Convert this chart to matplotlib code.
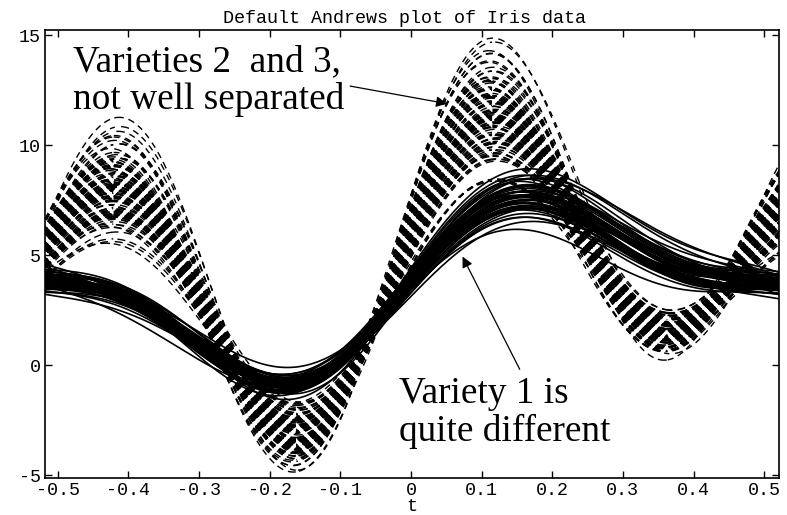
import numpy as np
import matplotlib
matplotlib.use("Agg")
import matplotlib.pyplot as plt

# Iris measurements: sepal length, sepal width, petal length, petal width
variety1 = [
    [5.1,3.5,1.4,0.2],[4.9,3.0,1.4,0.2],[4.7,3.2,1.3,0.2],[4.6,3.1,1.5,0.2],[5.0,3.6,1.4,0.2],
    [5.4,3.9,1.7,0.4],[4.6,3.4,1.4,0.3],[5.0,3.4,1.5,0.2],[4.4,2.9,1.4,0.2],[4.9,3.1,1.5,0.1],
    [5.4,3.7,1.5,0.2],[4.8,3.4,1.6,0.2],[4.8,3.0,1.4,0.1],[4.3,3.0,1.1,0.1],[5.8,4.0,1.2,0.2],
    [5.7,4.4,1.5,0.4],[5.4,3.9,1.3,0.4],[5.1,3.5,1.4,0.3],[5.7,3.8,1.7,0.3],[5.1,3.8,1.5,0.3],
    [5.4,3.4,1.7,0.2],[5.1,3.7,1.5,0.4],[4.6,3.6,1.0,0.2],[5.1,3.3,1.7,0.5],[4.8,3.4,1.9,0.2],
    [5.0,3.0,1.6,0.2],[5.0,3.4,1.6,0.4],[5.2,3.5,1.5,0.2],[5.2,3.4,1.4,0.2],[4.7,3.2,1.6,0.2],
    [4.8,3.1,1.6,0.2],[5.4,3.4,1.5,0.4],[5.2,4.1,1.5,0.1],[5.5,4.2,1.4,0.2],[4.9,3.1,1.5,0.2],
    [5.0,3.2,1.2,0.2],[5.5,3.5,1.3,0.2],[4.9,3.6,1.4,0.1],[4.4,3.0,1.3,0.2],[5.1,3.4,1.5,0.2],
    [5.0,3.5,1.3,0.3],[4.5,2.3,1.3,0.3],[4.4,3.2,1.3,0.2],[5.0,3.5,1.6,0.6],[5.1,3.8,1.9,0.4],
    [4.8,3.0,1.4,0.3],[5.1,3.8,1.6,0.2],[4.6,3.2,1.4,0.2],[5.3,3.7,1.5,0.2],[5.0,3.3,1.4,0.2],
]
variety2 = [
    [7.0,3.2,4.7,1.4],[6.4,3.2,4.5,1.5],[6.9,3.1,4.9,1.5],[5.5,2.3,4.0,1.3],[6.5,2.8,4.6,1.5],
    [5.7,2.8,4.5,1.3],[6.3,3.3,4.7,1.6],[4.9,2.4,3.3,1.0],[6.6,2.9,4.6,1.3],[5.2,2.7,3.9,1.4],
    [5.0,2.0,3.5,1.0],[5.9,3.0,4.2,1.5],[6.0,2.2,4.0,1.0],[6.1,2.9,4.7,1.4],[5.6,2.9,3.6,1.3],
    [6.7,3.1,4.4,1.4],[5.6,3.0,4.5,1.5],[5.8,2.7,4.1,1.0],[6.2,2.2,4.5,1.5],[5.6,2.5,3.9,1.1],
    [5.9,3.2,4.8,1.8],[6.1,2.8,4.0,1.3],[6.3,2.5,4.9,1.5],[6.1,2.8,4.7,1.2],[6.4,2.9,4.3,1.3],
    [6.6,3.0,4.4,1.4],[6.8,2.8,4.8,1.4],[6.7,3.0,5.0,1.7],[6.0,2.9,4.5,1.5],[5.7,2.6,3.5,1.0],
    [5.5,2.4,3.8,1.1],[5.5,2.4,3.7,1.0],[5.8,2.7,3.9,1.2],[6.0,2.7,5.1,1.6],[5.4,3.0,4.5,1.5],
    [6.0,3.4,4.5,1.6],[6.7,3.1,4.7,1.5],[6.3,2.3,4.4,1.3],[5.6,3.0,4.1,1.3],[5.5,2.5,4.0,1.3],
    [5.5,2.6,4.4,1.2],[6.1,3.0,4.6,1.4],[5.8,2.6,4.0,1.2],[5.0,2.3,3.3,1.0],[5.6,2.7,4.2,1.3],
    [5.7,3.0,4.2,1.2],[5.7,2.9,4.2,1.3],[6.2,2.9,4.3,1.3],[5.1,2.5,3.0,1.1],[5.7,2.8,4.1,1.3],
]
variety3 = [
    [6.3,3.3,6.0,2.5],[5.8,2.7,5.1,1.9],[7.1,3.0,5.9,2.1],[6.3,2.9,5.6,1.8],[6.5,3.0,5.8,2.2],
    [7.6,3.0,6.6,2.1],[4.9,2.5,4.5,1.7],[7.3,2.9,6.3,1.8],[6.7,2.5,5.8,1.8],[7.2,3.6,6.1,2.5],
    [6.5,3.2,5.1,2.0],[6.4,2.7,5.3,1.9],[6.8,3.0,5.5,2.1],[5.7,2.5,5.0,2.0],[5.8,2.8,5.1,2.4],
    [6.4,3.2,5.3,2.3],[6.5,3.0,5.5,1.8],[7.7,3.8,6.7,2.2],[7.7,2.6,6.9,2.3],[6.0,2.2,5.0,1.5],
    [6.9,3.2,5.7,2.3],[5.6,2.8,4.9,2.0],[7.7,2.8,6.7,2.0],[6.3,2.7,4.9,1.8],[6.7,3.3,5.7,2.1],
    [7.2,3.2,6.0,1.8],[6.2,2.8,4.8,1.8],[6.1,3.0,4.9,1.8],[6.4,2.8,5.6,2.1],[7.2,3.0,5.8,1.6],
    [7.4,2.8,6.1,1.9],[7.9,3.8,6.4,2.0],[6.4,2.8,5.6,2.2],[6.3,2.8,5.1,1.5],[6.1,2.6,5.6,1.4],
    [7.7,3.0,6.1,2.3],[6.3,3.4,5.6,2.4],[6.4,3.1,5.5,1.8],[6.0,3.0,4.8,1.8],[6.9,3.1,5.4,2.1],
    [6.7,3.1,5.6,2.4],[6.9,3.1,5.1,2.3],[5.8,2.7,5.1,1.9],[6.8,3.2,5.9,2.3],[6.7,3.3,5.7,2.5],
    [6.7,3.0,5.2,2.3],[6.3,2.5,5.0,1.9],[6.5,3.0,5.2,2.0],[6.2,3.4,5.4,2.3],[5.9,3.0,5.1,1.8],
]

x_ticks = [-0.5, -0.4, -0.3, -0.2, -0.1, 0, 0.1, 0.2, 0.3, 0.4, 0.5]
x_labels = ["-0.5", "-0.4", "-0.3", "-0.2", "-0.1", "0", "0.1", "0.2", "0.3", "0.4", "0.5"]
y_ticks = [-5, 0, 5, 10, 15]


def andrews(row, t):
    a, b, c, d = row
    return (a / np.sqrt(2) + b * np.sin(2 * np.pi * t)
            + c * np.sin(4 * np.pi * t) + d * np.cos(4 * np.pi * t))


mono = "Liberation Mono"
serif = "Liberation Serif"
text_size = 13.2

fig = plt.figure(figsize=(7.87, 5.15), dpi=100)
ax = fig.add_axes([45 / 787, 1 - 478 / 515, 734 / 787, 448 / 515])

t = np.linspace(-0.518, 0.521, 1400)

# the dashes in the reference form straight diagonal stripes across the band,
# like a dash counter that runs on dx + dy, so the phase follows the middle curve that way
PX_T, PX_Y = 707, 22
DASH_PERIOD, DASH_ON, DASH_SHIFT = 15.5, 10.0, 0.0
mid = np.mean([andrews(r, t) for r in variety2 + variety3], axis=0)
mid_step = np.gradient(mid)
mid_sign = np.sign(mid_step)
mid_l1 = np.cumsum(np.abs(np.gradient(t)) * PX_T + np.abs(mid_step) * PX_Y)

for row in variety2 + variety3:
    y = andrews(row, t)
    phase = (mid_l1 + mid_sign * (y - mid) * PX_Y + DASH_SHIFT) % DASH_PERIOD
    ax.plot(t, np.where(phase < DASH_ON, y, np.nan), color="k", lw=1.0,
            solid_capstyle="butt")
for row in variety1:
    ax.plot(t, andrews(row, t), color="k", lw=1.2)

ax.set_xlim(-0.518, 0.521)
ax.set_ylim(-5.12, 15.25)
ax.set_xticks(x_ticks)
ax.set_xticklabels(x_labels, family=mono, fontsize=text_size)
ax.set_yticks(y_ticks)
ax.set_yticklabels([str(v) for v in y_ticks], family=mono, fontsize=text_size)
ax.tick_params(direction="in", length=5, width=1, top=True, right=True, pad=3)
for s in ax.spines.values():
    s.set_linewidth(1.2)

ax.set_title("Default Andrews plot of Iris data", family=mono, fontsize=text_size, pad=5, x=0.49)
ax.set_xlabel("t", family=mono, fontsize=text_size, labelpad=-1)

ax.text(-0.479, 13.36, "Varieties 2  and 3,", family=serif, fontsize=26.8)
ax.text(-0.479, 11.68, "not well separated", family=serif, fontsize=26.8)
ax.text(-0.017, -1.73, "Variety 1 is", family=serif, fontsize=26.8)
ax.text(-0.017, -3.45, "quite different", family=serif, fontsize=26.8)

arrow = dict(arrowstyle="-|>", color="k", lw=0.9, mutation_scale=16, shrinkA=0, shrinkB=0)
ax.annotate("", xy=(0.051, 11.9), xytext=(-0.086, 12.7), arrowprops=arrow)
ax.annotate("", xy=(0.073, 4.95), xytext=(0.154, -0.18), arrowprops=arrow)

fig.savefig("out.png", dpi=100)
